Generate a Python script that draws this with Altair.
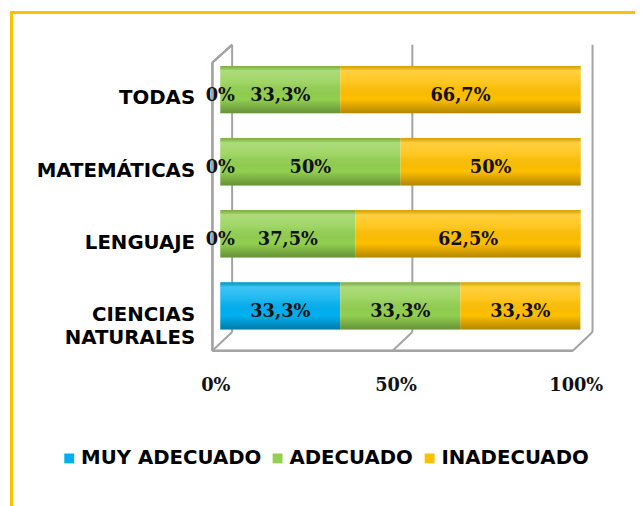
import altair as alt
import pandas as pd

categorias = ["TODAS", "MATEMÁTICAS", "LENGUAJE", "CIENCIAS NATURALES"]
niveles = ["MUY ADECUADO", "ADECUADO", "INADECUADO"]
muy_adecuado = [0, 0, 0, 33.3]
adecuado = [33.3, 50, 37.5, 33.3]
inadecuado = [66.7, 50, 62.5, 33.3]
colores = ["#00B0F0", "#92D050", "#FFC000"]
ticks = [0, 50, 100]

rows = []
for i, cat in enumerate(categorias):
    start = 0.0
    for j, (niv, serie) in enumerate(zip(niveles, [muy_adecuado, adecuado, inadecuado])):
        v = serie[i]
        lab = (f"{v:.1f}".replace(".", ",") if v % 1 else f"{int(v)}") + "%"
        rows.append(dict(categoria=cat, nivel=niv, orden=j, valor=v, inicio=start,
                         fin=start + v, medio=start + v / 2, etiqueta=lab))
        start += v
df = pd.DataFrame(rows)
df_ticks = pd.DataFrame({"t": ticks})

GRAY = "#a3a3a3"
xscale = alt.Scale(domain=[0, 100], nice=False)
yscale = alt.Scale(domain=categorias, paddingInner=0.342, paddingOuter=0.2945)

xaxis = alt.Axis(values=ticks, labelExpr="datum.value + '%'", grid=False, domain=False,
                 ticks=False, labelFont="DejaVu Serif", labelFontWeight="bold",
                 labelFontSize=18, labelColor="#111", labelPadding=26, labelOffset=-5,
                 labelFlush=False, title=None)
yaxis = alt.Axis(title=None, domain=False, ticks=False, grid=False, labelFont="DejaVu Sans",
                 labelFontWeight="bold", labelFontSize=20, labelColor="#000",
                 labelPadding=26, labelOffset=9, labelExpr="split(datum.label, ' ')",
                 labelLineHeight=24, labelLimit=300)

X_T = alt.X("t:Q", scale=xscale, axis=xaxis)

border = alt.Chart(df_ticks).mark_rect(fillOpacity=0, stroke="#FFC000", strokeWidth=3, clip=False).encode(
    x=alt.value(-211.5), x2=alt.value(600), y=alt.value(-32.5), y2=alt.value(600)
)

back = alt.Chart(df_ticks).mark_rule(color=GRAY, strokeWidth=2, xOffset=12).encode(
    x=X_T, y=alt.value(0), y2=alt.value(291)
)
diag = alt.Chart(df_ticks).mark_rule(color=GRAY, strokeWidth=2, xOffset=12, x2Offset=-8).encode(
    x=X_T, x2="t:Q", y=alt.value(291), y2=alt.value(310)
)
front = alt.Chart(df_ticks).mark_rule(color=GRAY, strokeWidth=2, xOffset=-8, x2Offset=-8).encode(
    x=alt.datum(0, scale=xscale, axis=xaxis), x2=alt.datum(100), y=alt.value(310)
)
wall = alt.Chart(df_ticks).mark_rule(color=GRAY, strokeWidth=2, xOffset=-8).encode(
    x=alt.datum(0, scale=xscale, axis=xaxis), y=alt.value(18), y2=alt.value(310)
)
wall_top = alt.Chart(df_ticks).mark_rule(color=GRAY, strokeWidth=2, xOffset=-8, x2Offset=12).encode(
    x=alt.datum(0, scale=xscale, axis=xaxis), x2=alt.datum(0), y=alt.value(18), y2=alt.value(0)
)

Y = alt.Y("categoria:N", sort=categorias, scale=yscale, axis=yaxis)

bars = alt.Chart(df).mark_bar().encode(
    x=alt.X("inicio:Q", scale=xscale, axis=xaxis),
    x2="fin:Q",
    y=Y,
    color=alt.Color("nivel:N", scale=alt.Scale(domain=niveles, range=colores),
                    legend=alt.Legend(title=None, orient="none", legendX=-163, legendY=409,
                                      direction="horizontal", symbolType="square",
                                      symbolSize=100, symbolStrokeWidth=0,
                                      labelFont="DejaVu Sans", labelFontWeight="bold",
                                      labelFontSize=20, labelColor="#000", labelLimit=400,
                                      columnPadding=6, labelOffset=2, padding=0)),
)

gradient = alt.Gradient(
    gradient="linear", x1=0, x2=0, y1=0, y2=1,
    stops=[
        alt.GradientStop(color="rgba(0,0,0,0.15)", offset=0),
        alt.GradientStop(color="rgba(255,255,255,0.25)", offset=0.1),
        alt.GradientStop(color="rgba(255,255,255,0.12)", offset=0.35),
        alt.GradientStop(color="rgba(0,0,0,0)", offset=0.7),
        alt.GradientStop(color="rgba(0,0,0,0.3)", offset=1),
    ],
)
shade = alt.Chart(df).mark_bar(color=gradient).encode(
    x=alt.X("inicio:Q", scale=xscale, axis=xaxis),
    x2="fin:Q",
    y=Y,
)

text = alt.Chart(df).mark_text(font="DejaVu Serif", fontWeight="bold", fontSize=18, dy=6,
                               color="#111").encode(
    x=alt.X("medio:Q", scale=xscale, axis=xaxis),
    y=Y,
    text="etiqueta:N",
)

chart = alt.layer(border, back, diag, front, wall, wall_top, bars, shade, text).properties(
    width=365, height=310,
    autosize=alt.AutoSizeParams(type="none"),
    padding={"left": 215, "top": 34, "right": 55, "bottom": 154},
    background="white",
).configure_view(stroke=None)

chart.save("out.html", embed_options={"renderer": "svg", "actions": False})
